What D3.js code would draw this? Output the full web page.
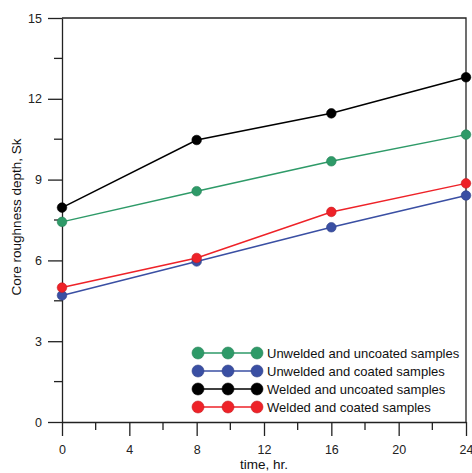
<!DOCTYPE html>
<html><head><meta charset="utf-8">
<script src="https://cdn.jsdelivr.net/npm/d3@7"></script>
<style>body{margin:0;background:#fff}svg{display:block;font-family:"Liberation Sans",Arial,sans-serif}</style>
</head><body><svg id="c" width="472" height="473"></svg>
<script>
const times = [0, 8, 16, 24];
const seriesNames = ["Unwelded and uncoated samples","Unwelded and coated samples","Welded and uncoated samples","Welded and coated samples"];
const seriesColors = ["#2e9a68","#3a4fa3","#000000","#ee2228"];
const unweldedUncoated = [7.43, 8.57, 9.68, 10.67];
const unweldedCoated = [4.70, 5.96, 7.23, 8.41];
const weldedUncoated = [7.96, 10.47, 11.46, 12.80];
const weldedCoated = [4.99, 6.09, 7.80, 8.86];
const xTicks = [0, 4, 8, 12, 16, 20, 24];
const xMinor = [2, 6, 10, 14, 18, 22];
const yTicks = [0, 3, 6, 9, 12, 15];
const yMinor = [1.5, 4.5, 7.5, 10.5, 13.5];

const svg = d3.select("#c");
const L = 62, R = 466, T = 18, B = 422;
const x = d3.scaleLinear().domain([0, 24]).range([L, R]);
const y = d3.scaleLinear().domain([0, 15]).range([B, T]);

// frame
svg.append("path").attr("d", `M${L},${T}H${R}V${B}`).attr("fill","none").attr("stroke","#222").attr("stroke-width",1.3);

// x axis
const xa = svg.append("g").attr("transform",`translate(0,${B})`)
  .call(d3.axisBottom(x).tickValues(xTicks).tickSize(14).tickPadding(9).tickSizeOuter(0));
xa.append("g").selectAll("line").data(xMinor).join("line")
  .attr("x1", d=>x(d)).attr("x2", d=>x(d)).attr("y1",0).attr("y2",8).attr("stroke","#222").attr("stroke-width",1.3);
// y axis
const ya = svg.append("g").attr("transform",`translate(${L},0)`)
  .call(d3.axisLeft(y).tickValues(yTicks).tickSize(14).tickPadding(6).tickSizeOuter(0));
ya.append("g").selectAll("line").data(yMinor).join("line")
  .attr("y1", d=>y(d)).attr("y2", d=>y(d)).attr("x1",0).attr("x2",-8).attr("stroke","#222").attr("stroke-width",1.3);
[xa, ya].forEach(a => {
  a.select(".domain").attr("stroke","#222").attr("stroke-width",1.3);
  a.selectAll(".tick line").attr("stroke","#222").attr("stroke-width",1.3);
  a.selectAll(".tick text").attr("font-size",12.5).attr("fill","#222").attr("font-family","Liberation Sans, Arial, sans-serif");
});

// axis titles
svg.append("text").attr("x",(L+R)/2).attr("y",469).attr("text-anchor","middle").attr("font-size",13.5).attr("fill","#111").text("time, hr.");
svg.append("text").attr("transform",`translate(21,217) rotate(-90)`).attr("text-anchor","middle").attr("font-size",13.5).attr("fill","#111").text("Core roughness depth, Sk");

// series
const all = [unweldedUncoated, unweldedCoated, weldedUncoated, weldedCoated];
const line = d3.line().x((d,i)=>x(times[i])).y(d=>y(d));
all.forEach((vals, k) => {
  const g = svg.append("g");
  g.append("path").attr("d", line(vals)).attr("fill","none").attr("stroke",seriesColors[k]).attr("stroke-width",1.5);
  g.selectAll("circle").data(vals).join("circle")
    .attr("cx",(d,i)=>x(times[i])).attr("cy",d=>y(d)).attr("r",4.8)
    .attr("fill",seriesColors[k]).attr("stroke",d3.color(seriesColors[k]).darker(0.5)).attr("stroke-width",0.6);
});

// legend
const legX = [198, 228, 257];
const legY0 = 353, legDy = 18;
seriesNames.forEach((name, k) => {
  const yy = legY0 + k*legDy;
  svg.append("line").attr("x1",legX[0]).attr("x2",legX[2]).attr("y1",yy).attr("y2",yy).attr("stroke",seriesColors[k]).attr("stroke-width",1.5);
  legX.forEach(cx => svg.append("circle").attr("cx",cx).attr("cy",yy).attr("r",6)
    .attr("fill",seriesColors[k]).attr("stroke",d3.color(seriesColors[k]).darker(0.5)).attr("stroke-width",0.6));
  svg.append("text").attr("x",267).attr("y",yy+4.5).attr("font-size",13).attr("fill","#111").text(name);
});
</script></body></html>
